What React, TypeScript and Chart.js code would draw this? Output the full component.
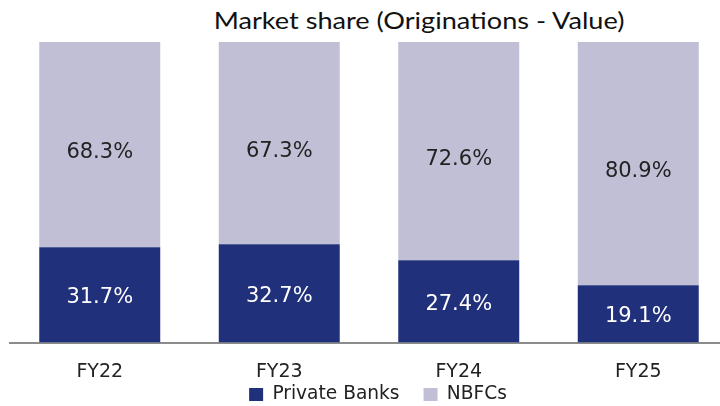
import React, { useEffect, useRef } from "react";
import { Chart, registerables } from "chart.js";

Chart.register(...registerables);

const categories = ["FY22", "FY23", "FY24", "FY25"];
const privateBanks = [31.7, 32.7, 27.4, 19.1];
const nbfcs = [68.3, 67.3, 72.6, 80.9];
const titleText = "Market share (Originations - Value)";

const DARK = "#21307B";
const LIGHT = "#C0BFD6";

const labelPlugin = {
  id: "segLabels",
  beforeDraw(chart: any) {
    // tuck the legend closer under the category labels
    const lg = chart.legend;
    const x = chart.scales.x;
    if (lg && x) {
      const dy = x.top + 18.5 - lg.top;
      lg.top += dy;
      lg.bottom += dy;
      const dx = 9;
      lg.left += dx;
      lg.right += dx;
    }
  },
  afterDatasetsDraw(chart: any) {
    const ctx = chart.ctx;
    ctx.save();
    ctx.font = "21px 'DejaVu Sans'";
    ctx.textAlign = "center";
    ctx.textBaseline = "middle";
    chart.data.datasets.forEach((ds: any, di: number) => {
      const meta = chart.getDatasetMeta(di);
      meta.data.forEach((bar: any, i: number) => {
        const p = bar.getProps(["x", "y", "base"], true);
        const cy = (p.y + p.base) / 2 + (di === 1 ? 8 : 3);
        ctx.fillStyle = di === 0 ? "#ffffff" : "#222222";
        ctx.fillText(ds.data[i].toFixed(1) + "%", p.x, cy);
      });
    });
    ctx.restore();
  },
};

export default function App() {
  const ref = useRef<HTMLCanvasElement>(null);
  useEffect(() => {
    document.body.style.margin = "0";
    const chart = new Chart(ref.current!, {
      type: "bar",
      data: {
        labels: categories,
        datasets: [
          { label: "Private Banks", data: privateBanks, backgroundColor: DARK },
          { label: "NBFCs", data: nbfcs, backgroundColor: LIGHT },
        ],
      },
      options: {
        animation: false,
        responsive: false,
        layout: { padding: { top: 42, left: 10, right: 2, bottom: -40 } },
        datasets: { bar: { categoryPercentage: 1, barPercentage: 0.674 } },
        scales: {
          x: {
            stacked: true,
            grid: { display: false },
            border: { color: "#8c8c8c", width: 2 },
            ticks: { color: "#222", font: { family: "'DejaVu Sans'", size: 19 }, padding: 10 },
          },
          y: { stacked: true, min: 0, max: 100, display: false },
        },
        plugins: {
          legend: {
            position: "bottom",
            labels: {
              color: "#222",
              boxWidth: 14,
              boxHeight: 13,
              padding: 24,
              font: { family: "'DejaVu Sans'", size: 18.6 },
            },
          },
          tooltip: { enabled: false },
          title: { display: false },
        },
      },
      plugins: [labelPlugin],
    });
    return () => chart.destroy();
  }, []);
  return (
    <div style={{ position: "absolute", left: 0, top: 0, width: 720, height: 406, overflow: "hidden", background: "#fff" }}>
      <div
        style={{
          position: "absolute",
          top: 5,
          left: 419,
          transform: "translateX(-50%) scaleX(1.13)",
          whiteSpace: "nowrap",
          fontFamily: "Lato, sans-serif",
          fontSize: 24,
          color: "#111",
        }}
      >
        {titleText}
      </div>
      <canvas ref={ref} width={730} height={406} style={{ position: "absolute", left: 0, top: 0 }} />
    </div>
  );
}
